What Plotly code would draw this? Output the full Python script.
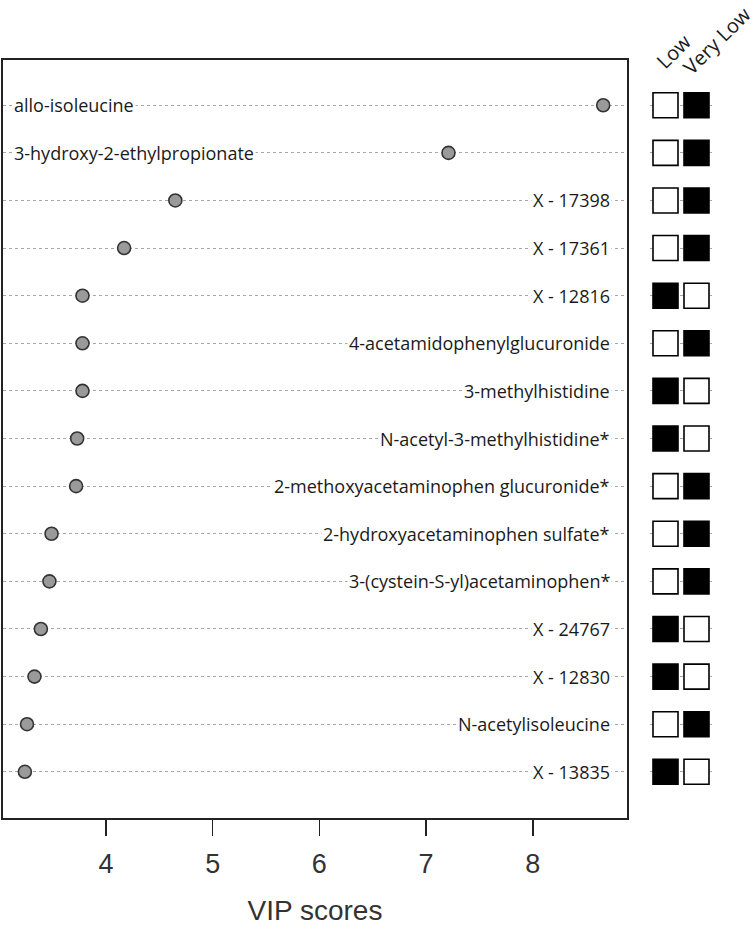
import plotly.graph_objects as go

metabolites = [
    "allo-isoleucine",
    "3-hydroxy-2-ethylpropionate",
    "X - 17398",
    "X - 17361",
    "X - 12816",
    "4-acetamidophenylglucuronide",
    "3-methylhistidine",
    "N-acetyl-3-methylhistidine*",
    "2-methoxyacetaminophen glucuronide*",
    "2-hydroxyacetaminophen sulfate*",
    "3-(cystein-S-yl)acetaminophen*",
    "X - 24767",
    "X - 12830",
    "N-acetylisoleucine",
    "X - 13835",
]
vip_scores = [8.66, 7.21, 4.65, 4.17, 3.78, 3.78, 3.78, 3.73, 3.72, 3.49, 3.47, 3.39, 3.33, 3.26, 3.24]
higher_in = ["Very Low", "Very Low", "Very Low", "Very Low", "Low", "Very Low", "Low", "Low",
             "Very Low", "Very Low", "Very Low", "Low", "Low", "Very Low", "Low"]
groups = ["Low", "Very Low"]
x_ticks = [4, 5, 6, 7, 8]

W, H = 756, 929
rows = list(range(len(metabolites)))

fig = go.Figure()

# dots
fig.add_trace(go.Scatter(
    x=vip_scores, y=rows, mode="markers",
    marker=dict(size=13, color="#9a9a9a", line=dict(color="#333333", width=1.6)),
    hoverinfo="skip", showlegend=False, xaxis="x", yaxis="y"))

# squares
for g in groups:
    fig.add_trace(go.Scatter(
        x=[g] * len(rows), y=rows, mode="markers",
        marker=dict(symbol="square", size=25,
                    color=["black" if h == g else "white" for h in higher_in],
                    line=dict(color="black", width=1.6)),
        hoverinfo="skip", showlegend=False, xaxis="x2", yaxis="y"))

label_font = dict(size=18, color="#1a1a1a", family="Open Sans")
annotations = []
for i, (name, v) in enumerate(zip(metabolites, vip_scores)):
    if v > 6:
        annotations.append(dict(x=3.12, y=i, xref="x", yref="y", text=name, showarrow=False,
                                xanchor="left", yanchor="middle", bgcolor="white", borderpad=1,
                                font=label_font))
    else:
        annotations.append(dict(x=8.74, y=i, xref="x", yref="y", text=name, showarrow=False,
                                xanchor="right", yanchor="middle", bgcolor="white", borderpad=1,
                                font=label_font))

header_shift = {"Low": (8, 52), "Very Low": (20, 40)}
for g in groups:
    dx, py = header_shift[g]
    annotations.append(dict(x=g, y=1 - py / H, xref="x2", yref="paper", text=g, showarrow=False,
                            textangle=-45, xanchor="center", yanchor="middle", xshift=dx,
                            font=dict(size=20, color="#1a1a1a", family="Open Sans")))

fig.update_layout(
    width=W, height=H, margin=dict(l=0, r=0, t=0, b=0),
    paper_bgcolor="white", plot_bgcolor="white",
    font=dict(family="Open Sans", color="#333333"),
    xaxis=dict(domain=[3 / W, 627 / W], range=[3.035, 8.883], tickvals=x_ticks,
               ticks="outside", ticklen=16, tickwidth=1.5, tickcolor="#222",
               ticklabelstandoff=5,
               tickfont=dict(size=27, color="#333", family="Liberation Sans"),
               showgrid=False, zeroline=False,
               showline=True, linecolor="#222", linewidth=2, mirror=True,
               title=dict(text="VIP scores", font=dict(size=28, color="#333", family="Liberation Sans"),
                          standoff=22)),
    yaxis=dict(domain=[1 - 818 / H, 1 - 60 / H], range=[14.97, -0.95], tickvals=rows,
               showticklabels=False, ticks="", showgrid=True, gridcolor="#a8a8a8",
               griddash="3px,3px", gridwidth=1, zeroline=False,
               showline=True, linecolor="#222", linewidth=2, mirror=True),
    xaxis2=dict(domain=[650 / W, 712 / W], range=[-0.5, 1.5], type="category",
                categoryorder="array", categoryarray=groups, anchor="y",
                showticklabels=False, showgrid=False, zeroline=False, showline=False, ticks=""),
    annotations=annotations,
)

fig.write_html("out.html", config={"displayModeBar": False, "staticPlot": True},
               post_script="document.body.style.margin='0';document.body.style.overflow='hidden';")
